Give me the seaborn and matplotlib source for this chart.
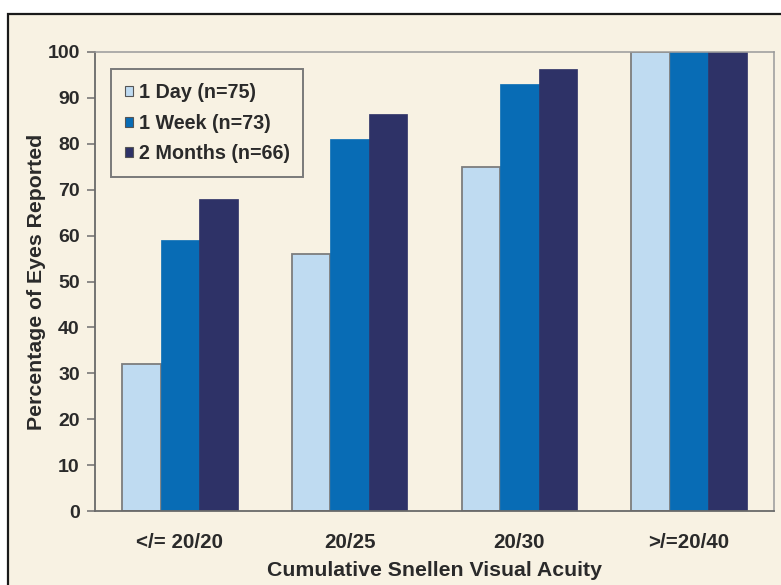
import matplotlib
matplotlib.use("Agg")
import matplotlib.pyplot as plt
from matplotlib.patches import Rectangle
import pandas as pd
import seaborn as sns

# Cumulative Snellen visual acuity categories
categories = ["</= 20/20", "20/25", "20/30", ">/=20/40"]
series_names = ["1 Day (n=75)", "1 Week (n=73)", "2 Months (n=66)"]
day_1 = [32, 56, 75, 100]
week_1 = [59, 81, 93, 100]
months_2 = [68, 86.4, 96.4, 100]
y_ticks = [0, 10, 20, 30, 40, 50, 60, 70, 80, 90, 100]

colors = ["#bfdbf1", "#086cb5", "#2e3267"]
cream = "#f8f2e3"
text_col = "#2a2a2a"

rows = []
for name, vals in zip(series_names, [day_1, week_1, months_2]):
    for cat, v in zip(categories, vals):
        rows.append({"acuity": cat, "period": name, "pct": v})
df = pd.DataFrame(rows)

sns.set_theme(style="white")
plt.rcParams["font.family"] = ["Liberation Sans", "DejaVu Sans"]
plt.rcParams["font.weight"] = "bold"

fig = plt.figure(figsize=(7.81, 5.85), dpi=100, facecolor="white")

# cream panel with a dark outer border, kept behind the axes
panel = Rectangle((8 / 781, -0.02), 1.05, 1 - 14 / 585 + 0.02,
                  transform=fig.transFigure, facecolor=cream,
                  edgecolor="#1a1a1a", linewidth=1.6, zorder=-10)
fig.patches.append(panel)

ax = fig.add_axes([95 / 781, 1 - 511 / 585, (774 - 95) / 781, (511 - 52) / 585])
ax.set_facecolor(cream)

sns.barplot(data=df, x="acuity", y="pct", hue="period", order=categories,
            hue_order=series_names, palette=colors, width=0.68, gap=0,
            saturation=1, ax=ax, legend=True)

# thin gray outline on the lightest series only
for i, cont in enumerate(ax.containers):
    for bar in cont:
        if i == 0:
            bar.set_edgecolor("#7d7d7d")
            bar.set_linewidth(1.3)
        else:
            bar.set_edgecolor(colors[i])
            bar.set_linewidth(0.5)

ax.set_ylim(0, 100)
ax.set_xlim(-0.5, 3.5)
ax.set_yticks(y_ticks)
ax.set_yticklabels([str(t) for t in y_ticks], fontsize=14, fontweight="bold",
                   color=text_col)
ax.set_xticks(range(len(categories)))
ax.set_xticklabels(categories, fontsize=14.8, fontweight="bold", color=text_col)
ax.tick_params(axis="y", which="both", left=True, length=6, width=1.1,
               color="#6e6e6e", pad=5)
ax.tick_params(axis="x", length=0, pad=16)

for side in ["left", "bottom"]:
    ax.spines[side].set_color("#6a6a6a")
    ax.spines[side].set_linewidth(1.3)
for side in ["top", "right"]:
    ax.spines[side].set_visible(True)
    ax.spines[side].set_color("#9a9a9a")
    ax.spines[side].set_linewidth(1.1)

ax.set_xlabel("Cumulative Snellen Visual Acuity", fontsize=15.3,
              fontweight="bold", color=text_col, labelpad=6)
ax.set_ylabel("Percentage of Eyes Reported", fontsize=15.3,
              fontweight="bold", color=text_col, labelpad=1)

leg = ax.legend(loc="upper left", bbox_to_anchor=(111 / 781, 1 - 69 / 585),
                bbox_transform=fig.transFigure, frameon=True, fancybox=False,
                framealpha=1, facecolor=cream, edgecolor="#7a7a7a",
                prop={"family": "Liberation Sans", "weight": "bold", "size": 14.2},
                handlelength=0.4, handleheight=0.4, handletextpad=0.3,
                labelspacing=0.6, borderpad=0.7, borderaxespad=0)
leg.get_frame().set_linewidth(1.4)
for t in leg.get_texts():
    t.set_color(text_col)
for h in leg.legend_handles:
    h.set_edgecolor("#555555")
    h.set_linewidth(0.8)

fig.savefig("out.png", dpi=100, facecolor=fig.get_facecolor())
